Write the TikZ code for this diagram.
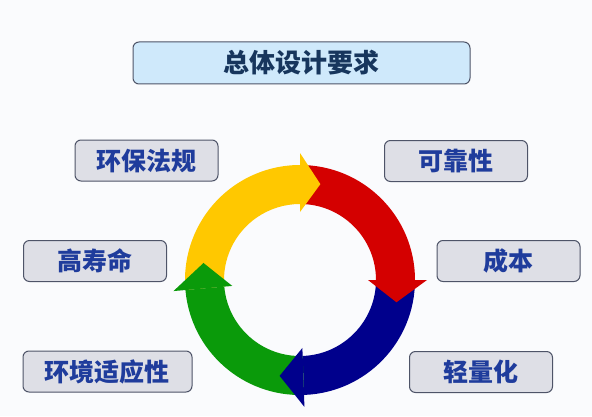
\documentclass[tikz,border=0pt]{standalone}
\usepackage{fontspec}
\setmainfont{Noto Sans CJK SC}
\definecolor{bgcol}{HTML}{FAFBFD}
\definecolor{boxfill}{HTML}{DEDFE6}
\definecolor{boxline}{HTML}{4E5468}
\definecolor{reqtext}{HTML}{1F3C9C}
\definecolor{titlefill}{HTML}{CFE9FB}
\definecolor{titletext}{HTML}{17365D}
\definecolor{ayellow}{HTML}{FFC800}
\definecolor{ared}{HTML}{D40000}
\definecolor{ablue}{HTML}{00008C}
\definecolor{agreen}{HTML}{0A9A0A}

\begin{document}
\begin{tikzpicture}[x=1pt, y=1pt,
  req/.style={draw=boxline, fill=boxfill, rounded corners=6pt, line width=1pt,
    minimum width=143pt, minimum height=41pt, text=reqtext,
    font=\fontsize{25}{25}\selectfont\bfseries},
  head/.style={draw=boxline, fill=titlefill, rounded corners=6pt, line width=1pt,
    minimum width=337pt, minimum height=42pt, text=titletext,
    font=\fontsize{26}{26}\selectfont\bfseries}]
\fill[bgcol] (0,0) rectangle (592,416);
\node (top) [head] at (301.5,353) {总体设计要求};
\node (env) [req] at (146.5,255.5) {环保法规};
\node (life) [req] at (95,155) {高寿命};
\node (adapt) [req, minimum width=169pt] at (107.5,44.5) {环境适应性};
\node (rel) [req] at (456,255) {可靠性};
\node (cost) [req] at (508.5,155) {成本};
\node (light) [req] at (481,44) {轻量化};
% cycle arrows
\begin{scope}[shift={(300,136)}]
\fill[ayellow] (185:76) arc[start angle=185, end angle=90, radius=76]
  -- (90:115) arc[start angle=90, end angle=185, radius=115] -- cycle;
\fill[ared] (90:76) arc[start angle=90, end angle=0, radius=76]
  -- (0:115) arc[start angle=0, end angle=90, radius=115] -- cycle;
\fill[ablue] (0:76) arc[start angle=0, end angle=-88, radius=76]
  -- (-88:115) arc[start angle=-88, end angle=0, radius=115] -- cycle;
\fill[agreen] (272:76) arc[start angle=272, end angle=185, radius=76]
  -- (185:115) arc[start angle=185, end angle=272, radius=115] -- cycle;
\fill[ayellow] (90:68) -- (78:98) -- (90:127) -- cycle;
\fill[ared] (0:68) -- (-13:99) -- (0:127) -- cycle;
\fill[ablue] (-88:68) -- (-102:98) -- (-88:127) -- cycle;
\fill[agreen] (185:68) -- (170:98) -- (185:127) -- cycle;
\end{scope}
\end{tikzpicture}
\end{document}
